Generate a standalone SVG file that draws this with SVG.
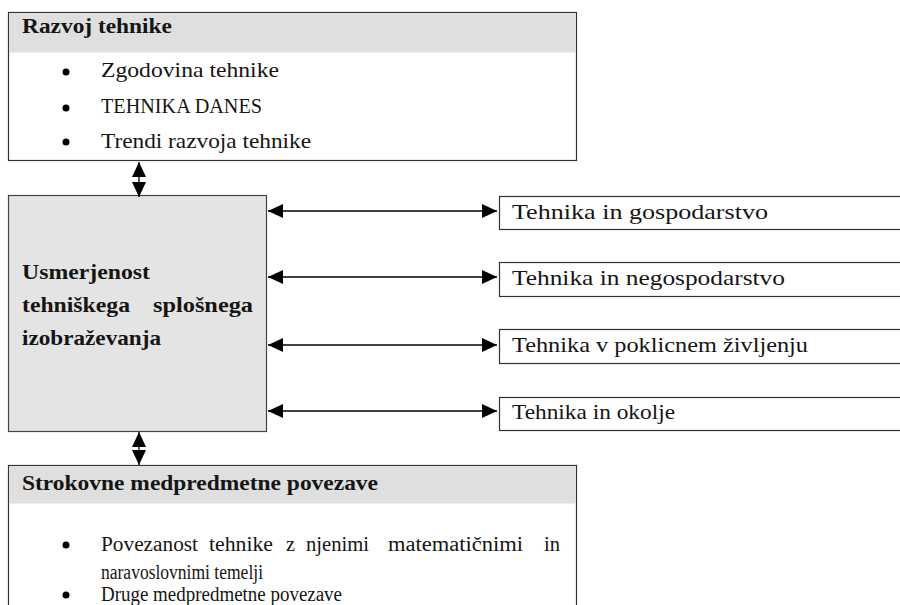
<svg xmlns="http://www.w3.org/2000/svg" width="900" height="605" viewBox="0 0 900 605">
  <defs>
    <marker id="head" viewBox="0 0 15 14" refX="15" refY="7" markerWidth="15" markerHeight="14" markerUnits="userSpaceOnUse" orient="auto-start-reverse">
      <path d="M0,0 L15,7 L0,14 z" fill="#000"/>
    </marker>
    <style>
      .box { fill: #fff; stroke: #333; stroke-width: 1.2; }
      .band { fill: #dfdfdf; }
      .core { fill: #e4e4e4; stroke: #444; stroke-width: 1.2; }
      .t { font-family: "Liberation Serif", "Times New Roman", serif; font-size: 21px; fill: #151515; }
      .s { font-size: 20px; }
      .b { font-weight: bold; }
      .dot { fill: #000; }
      .link { stroke: #000; stroke-width: 1.3; fill: none; marker-start: url(#head); marker-end: url(#head); }
    </style>
  </defs>

  <!-- top panel: history and trends -->
  <g id="razvoj">
    <rect class="box" x="8.5" y="12.5" width="568" height="148"/>
    <rect class="band" x="9.1" y="13.1" width="566.8" height="39.4"/>
    <text class="t b" x="22" y="33" textLength="150" lengthAdjust="spacingAndGlyphs">Razvoj tehnike</text>
    <circle class="dot" cx="66" cy="72" r="3.5"/>
    <text class="t" x="101" y="77" textLength="178" lengthAdjust="spacingAndGlyphs">Zgodovina tehnike</text>
    <circle class="dot" cx="66" cy="108" r="3.5"/>
    <text class="t" x="101" y="113" textLength="161" lengthAdjust="spacingAndGlyphs">TEHNIKA DANES</text>
    <circle class="dot" cx="66" cy="142" r="3.5"/>
    <text class="t" x="101" y="148" textLength="210" lengthAdjust="spacingAndGlyphs">Trendi razvoja tehnike</text>
  </g>

  <!-- central block -->
  <g id="usmerjenost">
    <rect class="core" x="8.5" y="195.5" width="258" height="236"/>
    <text class="t b" x="22" y="279" textLength="128" lengthAdjust="spacingAndGlyphs">Usmerjenost</text>
    <text class="t b" x="22" y="312" textLength="108" lengthAdjust="spacingAndGlyphs">tehniškega</text>
    <text class="t b" x="153" y="312" textLength="100" lengthAdjust="spacingAndGlyphs">splošnega</text>
    <text class="t b" x="22" y="345" textLength="139" lengthAdjust="spacingAndGlyphs">izobraževanja</text>
  </g>

  <!-- side topics -->
  <g id="gospodarstvo">
    <rect class="box" x="499.5" y="196.5" width="420" height="33"/>
    <text class="t" x="512" y="219" textLength="256" lengthAdjust="spacingAndGlyphs">Tehnika in gospodarstvo</text>
  </g>
  <g id="negospodarstvo">
    <rect class="box" x="499.5" y="262.5" width="420" height="34"/>
    <text class="t" x="512" y="285" textLength="273" lengthAdjust="spacingAndGlyphs">Tehnika in negospodarstvo</text>
  </g>
  <g id="poklic">
    <rect class="box" x="499.5" y="329.5" width="420" height="34"/>
    <text class="t" x="512" y="352" textLength="296" lengthAdjust="spacingAndGlyphs">Tehnika v poklicnem življenju</text>
  </g>
  <g id="okolje">
    <rect class="box" x="499.5" y="397.5" width="420" height="33"/>
    <text class="t" x="512" y="419" textLength="163" lengthAdjust="spacingAndGlyphs">Tehnika in okolje</text>
  </g>

  <!-- bottom panel: cross-curricular links -->
  <g id="medpredmetne">
    <rect class="box" x="8.5" y="465.5" width="568" height="160"/>
    <rect class="band" x="9.1" y="466.1" width="566.8" height="37.4"/>
    <text class="t b" x="22" y="490" textLength="356" lengthAdjust="spacingAndGlyphs">Strokovne medpredmetne povezave</text>
    <circle class="dot" cx="66" cy="545" r="3.5"/>
    <text class="t s" x="101" y="551" textLength="97" lengthAdjust="spacingAndGlyphs">Povezanost</text>
    <text class="t s" x="209" y="551" textLength="64" lengthAdjust="spacingAndGlyphs">tehnike</text>
    <text class="t s" x="286" y="551" textLength="9" lengthAdjust="spacingAndGlyphs">z</text>
    <text class="t s" x="306" y="551" textLength="63" lengthAdjust="spacingAndGlyphs">njenimi</text>
    <text class="t s" x="388" y="551" textLength="135" lengthAdjust="spacingAndGlyphs">matematičnimi</text>
    <text class="t s" x="544" y="551" textLength="16" lengthAdjust="spacingAndGlyphs">in</text>
    <text class="t s" x="101" y="579" textLength="162" lengthAdjust="spacingAndGlyphs">naravoslovnimi temelji</text>
    <circle class="dot" cx="66" cy="595" r="3.5"/>
    <text class="t s" x="101" y="601" textLength="241" lengthAdjust="spacingAndGlyphs">Druge medpredmetne povezave</text>
  </g>

  <!-- connectors -->
  <g id="connectors">
    <line class="link" x1="139" y1="162" x2="139" y2="197"/>
    <line class="link" x1="139" y1="432" x2="139" y2="465"/>
    <line class="link" x1="268" y1="211" x2="497" y2="211"/>
    <line class="link" x1="268" y1="277" x2="497" y2="277"/>
    <line class="link" x1="268" y1="345" x2="497" y2="345"/>
    <line class="link" x1="268" y1="411" x2="497" y2="411"/>
  </g>
</svg>
